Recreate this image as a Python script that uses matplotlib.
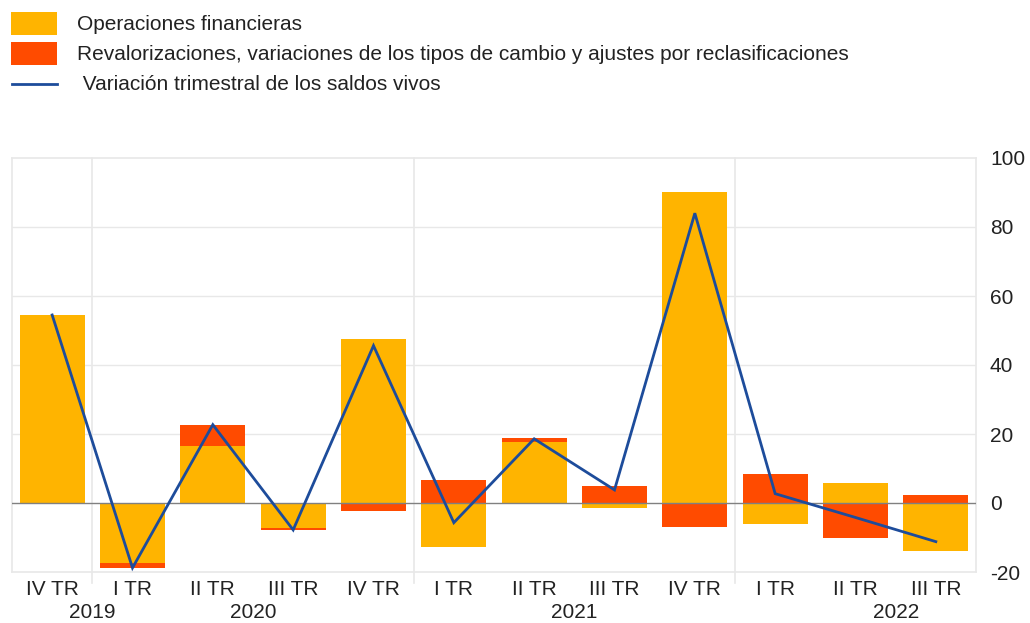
import matplotlib
matplotlib.use("Agg")
import matplotlib.pyplot as plt
import numpy as np
from matplotlib.patches import Rectangle
from matplotlib.lines import Line2D
from matplotlib.transforms import blended_transform_factory

plt.rcParams['font.family'] = ['Liberation Sans', 'DejaVu Sans']
plt.rcParams['axes.unicode_minus'] = False

quarters = ["IV TR", "I TR", "II TR", "III TR", "IV TR", "I TR",
            "II TR", "III TR", "IV TR", "I TR", "II TR", "III TR"]
years = ["2019", "2020", "2021", "2022"]
year_pos = [0.5, 2.5, 6.5, 10.5]
financial_ops = [54.5, -17.3, 16.4, -7.3, 47.4, -12.7, 17.8, -1.4, 90.2, -6.2, 5.9, -14.0]
revaluations = [-0.3, -1.5, 6.3, -0.4, -2.3, 6.7, 0.9, 4.9, -6.9, 8.5, -10.1, 2.3]
stock_change = [54.5, -18.8, 22.7, -7.8, 45.6, -5.7, 18.6, 3.8, 84.0, 2.7, -4.2, -11.2]

labels = ["Operaciones financieras",
          "Revalorizaciones, variaciones de los tipos de cambio y ajustes por reclasificaciones",
          " Variación trimestral de los saldos vivos"]
c_yellow = "#FFB400"
c_red = "#FF4B00"
c_line = "#1D4C9B"
grid_c = "#E8E8E8"

W, H = 1030, 623
fig = plt.figure(figsize=(W / 100, H / 100), dpi=100)
ax = fig.add_axes([12 / W, (H - 572) / H, (976 - 12) / W, (572 - 158) / H])

x = np.arange(len(quarters))
fo = np.array(financial_ops)
rv = np.array(revaluations)
bottom_rv = np.where(np.sign(rv) == np.sign(fo), fo, 0.0)
bw = 0.81
ax.bar(x, fo, width=bw, color=c_yellow, zorder=2)
ax.bar(x, rv, width=bw, bottom=bottom_rv, color=c_red, zorder=2)
ax.plot(x, stock_change, color=c_line, lw=2.0, zorder=4, solid_joinstyle='miter')

ax.set_xlim(-0.5, len(quarters) - 0.5)
ax.set_ylim(-20, 100)
ax.set_yticks([-20, 0, 20, 40, 60, 80, 100])
ax.yaxis.tick_right()
ax.tick_params(axis='y', length=0, pad=10, labelsize=15, labelcolor="#222222")
ax.set_xticks(x)
ax.set_xticklabels(quarters)
ax.tick_params(axis='x', length=0, pad=6, labelsize=15, labelcolor="#222222")

for yv in [20, 40, 60, 80]:
    ax.axhline(yv, color=grid_c, lw=1.0, zorder=1)
ax.axhline(0, color="#808080", lw=1.0, zorder=3)
for xv in [0.5, 4.5, 8.5]:
    ax.axvline(xv, ymin=-0.027, ymax=1, color=grid_c, lw=1.2, zorder=1, clip_on=False)
for s in ax.spines.values():
    s.set_color(grid_c)
    s.set_linewidth(1.2)

tr = blended_transform_factory(ax.transData, ax.transAxes)
for yr, p in zip(years, year_pos):
    ax.text(p, -0.097, yr, transform=tr, ha='center', va='center', fontsize=15, color="#222222")

# legend (figure pixel coordinates)
def fx(px):
    return px / W

def fy(py):
    return 1 - py / H

fig.patches.append(Rectangle((fx(11), fy(35)), 46 / W, 23 / H, transform=fig.transFigure,
                             facecolor=c_yellow, edgecolor='none'))
fig.patches.append(Rectangle((fx(11), fy(65)), 46 / W, 23 / H, transform=fig.transFigure,
                             facecolor=c_red, edgecolor='none'))
fig.lines.append(Line2D([fx(12), fx(57)], [fy(84), fy(84)], transform=fig.transFigure,
                        color=c_line, lw=2.0))
for lab, py in zip(labels, [24, 54, 85]):
    fig.text(fx(77), fy(py), lab, ha='left', va='center', fontsize=15, color="#222222")

fig.savefig("out.png", dpi=100)
